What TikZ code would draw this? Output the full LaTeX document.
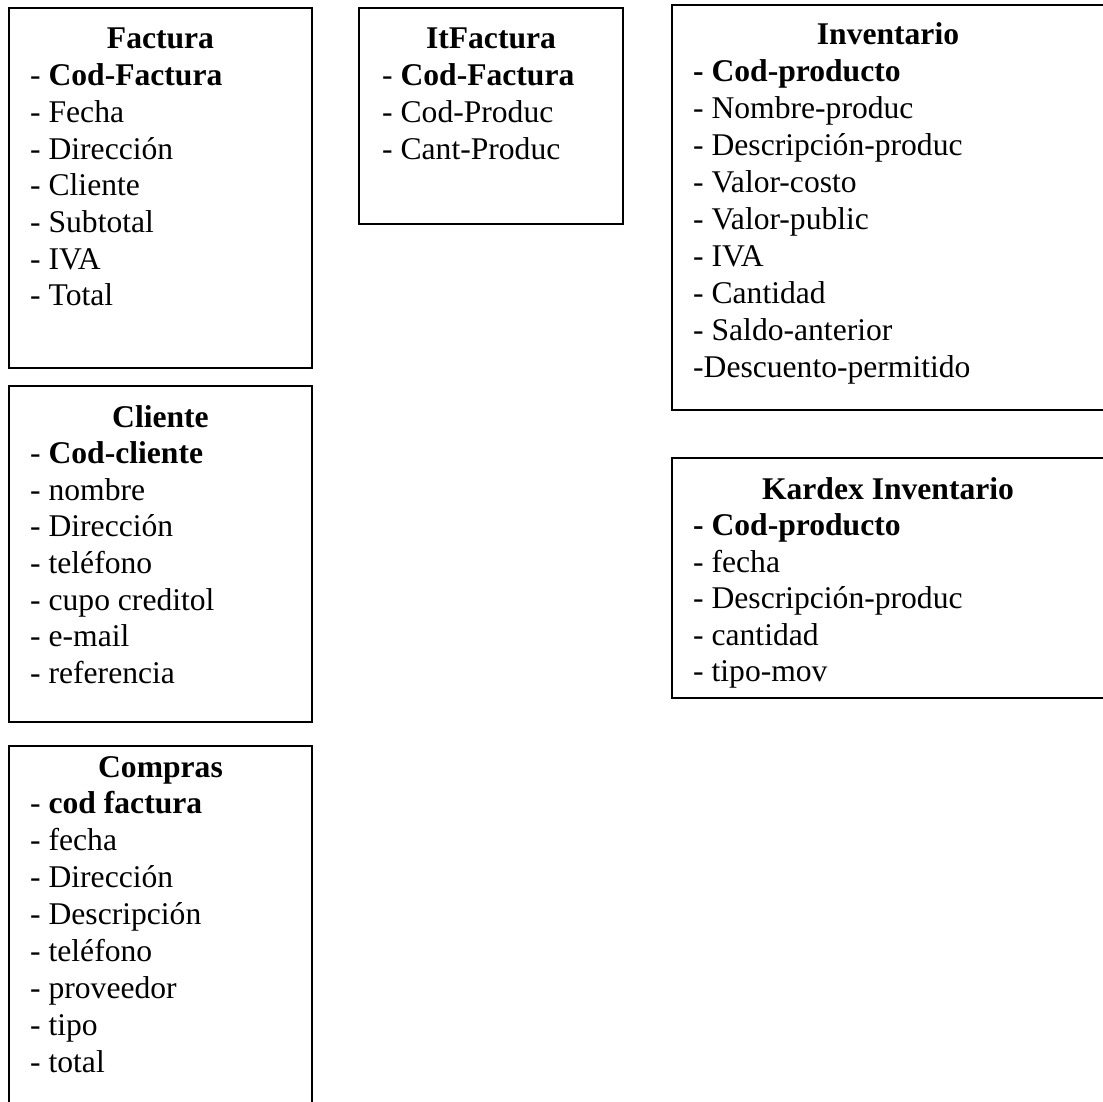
\documentclass[tikz,border=0pt]{standalone}
\usepackage{fontspec}
\setmainfont{Liberation Serif}
\begin{document}
\begin{tikzpicture}[x=1pt,y=-1pt,
  box/.style={draw=black, line width=2.2pt, fill=none, inner sep=0pt, outer sep=0pt, anchor=north west},
  ttl/.style={font=\fontsize{31.6pt}{36.7pt}\selectfont\bfseries, inner sep=0pt, anchor=base},
  attr/.style={font=\fontsize{31.6pt}{36.7pt}\selectfont, inner sep=0pt, anchor=base west}]
\useasboundingbox[fill=white] (0,0) rectangle (1103,1102);
% boxes
\node[box, minimum width=303pt, minimum height=360pt] (factura) at (9,8) {};
\node[box, minimum width=264pt, minimum height=216pt] (itfactura) at (359,8) {};
\node[box, minimum width=434pt, minimum height=405pt] (inventario) at (672,5) {};
\node[box, minimum width=434pt, minimum height=240pt] (kardex) at (672,458) {};
\node[box, minimum width=303pt, minimum height=336pt] (cliente) at (9,386) {};
\node[box, minimum width=303pt, minimum height=380pt] (compras) at (9,746) {};
% titles
\node[ttl] (factura-t) at (160.5,49) {Factura};
\node[ttl] (itfactura-t) at (491,49) {ItFactura};
\node[ttl] (inventario-t) at (888,45) {Inventario};
\node[ttl] (kardex-t) at (888,499) {Kardex Inventario};
\node[ttl] (cliente-t) at (160.5,427) {Cliente};
\node[ttl] (compras-t) at (160.5,777) {Compras};
% attributes
\foreach \t [count=\i] in {- {\bfseries Cod-Factura}, - Fecha, - Dirección, - Cliente, - Subtotal, - IVA, - Total}
  \node[attr] (factura-\i) at (30,{49+36.7*\i}) {\t};
\foreach \t [count=\i] in {- {\bfseries Cod-Factura}, - Cod-Produc, - Cant-Produc}
  \node[attr] (itfactura-\i) at (382,{49+36.7*\i}) {\t};
\foreach \t [count=\i] in {{\bfseries - Cod-producto}, - Nombre-produc, - Descripción-produc, - Valor-costo, - Valor-public, - IVA, - Cantidad, - Saldo-anterior, -Descuento-permitido}
  \node[attr] (inventario-\i) at (693,{45+36.9*\i}) {\t};
\foreach \t [count=\i] in {{\bfseries - Cod-producto}, - fecha, - Descripción-produc, - cantidad, - tipo-mov}
  \node[attr] (kardex-\i) at (693,{499+36.5*\i}) {\t};
\foreach \t [count=\i] in {- {\bfseries Cod-cliente}, - nombre, - Dirección, - teléfono, - cupo creditol, - e-mail, - referencia}
  \node[attr] (cliente-\i) at (30,{427+36.6*\i}) {\t};
\foreach \t [count=\i] in {- {\bfseries cod factura}, - fecha, - Dirección, - Descripción, - teléfono, - proveedor, - tipo, - total}
  \node[attr] (compras-\i) at (30,{777+36.9*\i}) {\t};
\end{tikzpicture}
\end{document}
